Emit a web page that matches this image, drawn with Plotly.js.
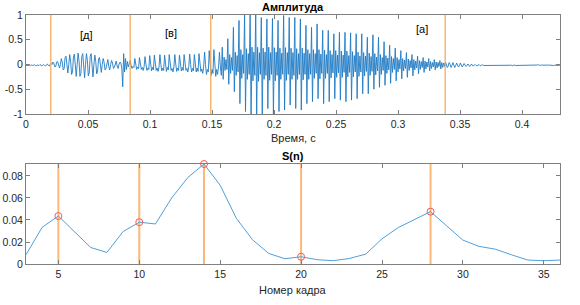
<!DOCTYPE html>
<html><head><meta charset="utf-8">
<script src="https://cdn.plot.ly/plotly-3.0.1.min.js"></script>
<style>html,body{margin:0;padding:0;background:#fff}</style>
</head><body><div id="chart" style="width:580px;height:305px"></div>
<script>
const dt = 0.00075;
const waveLead = [-0.02,-0.015,-0.02,-0.01,-0.015,-0.025,-0.01,-0.02,-0.015,-0.005,-0.02,-0.025,-0.01,-0.015,-0.02,0.0,-0.02,-0.03,-0.01,0.0,-0.02,-0.03,-0.005,0.01,-0.02,-0.03,0.0,0.02];
const waveD = [
  0,0.05,0.02,-0.05,-0.04,0.05,0.06,-0.03,-0.07,
  0,0.12,0.05,-0.11,-0.09,0.14,0.17,-0.06,-0.17,
  0,0.2,0.07,-0.2,-0.15,0.15,0.21,-0.09,-0.24,
  0,0.23,0.08,-0.24,-0.18,0.16,0.22,-0.1,-0.27,
  0,0.22,0.08,-0.23,-0.17,0.16,0.22,-0.09,-0.25,
  0,0.19,0.06,-0.19,-0.13,0.11,0.14,-0.06,-0.16,
  0,0.12,0.04,-0.11,-0.08,0.07,0.1,-0.04,-0.11,
  0,0.08,0.03,-0.08,-0.06,0.05,0.07,-0.03,-0.08,
  0,0.05];
const waveBurst = [0.03,-0.08,-0.45,0.22,-0.15,0.12,-0.1,0.06,-0.05,0.04];
const waveV = [
  0.08,-0.02,-0.08,-0.04,-0.06,
  0.12,0.0,-0.1,-0.05,-0.08,
  0.14,0.02,-0.1,-0.06,-0.12,-0.04,
  0.16,0.0,-0.12,-0.07,-0.1,
  0.18,0.01,-0.13,-0.06,-0.11,
  0.19,0.03,-0.12,-0.07,-0.14,-0.05,
  0.2,0.0,-0.13,-0.07,-0.12,
  0.19,0.02,-0.14,-0.06,-0.11,
  0.2,0.03,-0.12,-0.08,-0.15,-0.05,
  0.2,0.01,-0.14,-0.07,-0.12,
  0.19,0.0,-0.13,-0.06,-0.12,
  0.2,0.04,-0.12,-0.08,-0.15,-0.04,
  0.21,0.0,-0.15,-0.08,-0.13,
  0.2,0.02,-0.15,-0.07,-0.14,
  0.22,0.05,-0.14,-0.09,-0.18,-0.05,
  0.25,0.0,-0.2,-0.1,-0.15,
  0.28,0.02,-0.22,-0.1,-0.18,
  0.3,0.04,-0.24,-0.1,-0.2,-0.05,
  0.25,-0.05,-0.22];
const waveA = [
  0.35,-0.3,0.15,-0.12,0.1,-0.1,
  0.52,-0.4,0.2,-0.18,0.14,-0.12,
  0.75,-0.55,0.25,-0.22,0.18,-0.15,
  0.89,-0.79,0.3,-0.28,0.2,-0.18,
  1.05,-0.95,0.32,-0.3,0.22,-0.2,
  1.1,-1.1,0.35,-0.33,0.25,-0.22,
  1.08,-1.05,0.35,-0.34,0.24,-0.2,
  0.95,-1.05,0.33,-0.3,0.25,-0.22,
  0.92,-0.89,0.35,-0.32,0.24,-0.2,
  0.93,-1.02,0.34,-0.33,0.25,-0.22,
  0.89,-0.95,0.33,-0.3,0.23,-0.2,
  0.99,-0.92,0.34,-0.32,0.24,-0.2,
  0.95,-0.82,0.33,-0.3,0.24,-0.22,
  0.95,-0.89,0.32,-0.3,0.22,-0.2,
  0.92,-0.92,0.33,-0.31,0.23,-0.2,
  0.79,-0.79,0.3,-0.3,0.22,-0.2,
  0.75,-0.75,0.3,-0.28,0.22,-0.18,
  0.82,-0.69,0.3,-0.29,0.21,-0.18,
  0.69,-0.79,0.29,-0.28,0.2,-0.18,
  0.69,-0.75,0.28,-0.27,0.2,-0.17,
  0.62,-0.69,0.28,-0.26,0.19,-0.17,
  0.65,-0.72,0.27,-0.26,0.19,-0.16,
  0.65,-0.75,0.27,-0.25,0.18,-0.16,
  0.64,-0.72,0.26,-0.25,0.18,-0.15,
  0.62,-0.69,0.25,-0.24,0.17,-0.15,
  0.62,-0.59,0.24,-0.23,0.17,-0.14,
  0.55,-0.59,0.23,-0.22,0.16,-0.14,
  0.6,-0.5,0.22,-0.21,0.15,-0.13,
  0.55,-0.46,0.2,-0.2,0.14,-0.12,
  0.46,-0.42,0.18,-0.18,0.13,-0.11,
  0.39,-0.38,0.16,-0.16,0.12,-0.1,
  0.33,-0.33,0.14,-0.15,0.1,-0.09,
  0.28,-0.29,0.12,-0.13,0.09,-0.08,
  0.24,-0.26,0.11,-0.12,0.08,-0.07,
  0.2,-0.23,0.1,-0.11,0.07,-0.07,
  0.17,-0.19,0.08,-0.1,0.06,-0.06,
  0.14,-0.16,0.07,-0.09,0.05,-0.05,
  0.12,-0.13,0.06,-0.08,0.04,-0.05,
  0.1,-0.11,0.05,-0.07,0.04,-0.04,
  0.08,-0.09,0.04,-0.06,0.03,-0.04];
const waveTail = [
  0.05,0.0,-0.06,-0.03,0.04,0.0,-0.06,-0.02,0.04,-0.01,-0.06,-0.02,0.03,-0.01,-0.05,-0.02,
  0.03,-0.01,-0.05,-0.02,0.02,-0.01,-0.04,-0.02,0.01,-0.01,-0.04,-0.02,0.01,-0.02,-0.03,-0.01,
  0.0,-0.02,-0.03,-0.01,0.0,-0.02,-0.025,-0.01,-0.005,-0.02,-0.02,-0.01,-0.015,-0.02,-0.01,-0.015,
  -0.02,-0.01,-0.015,-0.02,-0.01,-0.005,-0.015,-0.02,-0.01,-0.015,-0.02,-0.01,-0.01,-0.02,-0.015,-0.01,
  -0.005,-0.015,-0.02,-0.01,-0.015,-0.02,-0.01,-0.015,-0.025,-0.015,-0.01,-0.02,-0.02,-0.01,-0.015,-0.02,
  -0.015,-0.02,-0.025,-0.015,-0.02,-0.025,-0.02,-0.015,-0.02,-0.025,-0.015,-0.01,-0.015,-0.02,-0.01,-0.015,
  -0.01,-0.015,-0.02,-0.01,-0.005,-0.015,-0.02,-0.01,-0.015,-0.02,-0.01,-0.015,-0.01,-0.02,-0.015,-0.01,
  -0.015,-0.02,-0.01,-0.015,-0.02,-0.015,-0.01,-0.015,-0.02,-0.015,-0.01,-0.015];
const wave = [].concat(waveLead, waveD, waveBurst, waveV, waveA, waveTail);
const waveTime = wave.map((_, i) => i * dt);

// segment boundaries (s) and phoneme labels
const boundaryTimes = [0.02, 0.084, 0.149, 0.338];
const phonemeLabels = ['[д]', '[в]', '[а]'];
const phonemeX = [0.0484, 0.1167, 0.3196];
const phonemeY = [0.6, 0.63, 0.71];

// ---- S(n) ----
const frames = [3,4,5,6,7,8,9,10,11,12,13,14,15,16,17,18,19,20,21,22,23,24,25,26,27,28,29,30,31,32,33,34,35,36];
const sValues = [0.0084,0.0334,0.0436,0.029,0.015,0.0105,0.0295,0.038,0.0364,0.060,0.0786,0.0909,0.0716,0.0415,0.022,0.0096,0.0048,0.0066,0.0039,0.003,0.0051,0.009,0.0229,0.0331,0.040,0.0476,0.0346,0.0217,0.016,0.0135,0.0084,0.0036,0.003,0.0036];
const peakFrames = [5,10,14,20,28];
const peakValues = peakFrames.map(f => sValues[frames.indexOf(f)]);

// ticks
const topXTicks = [0,0.05,0.1,0.15,0.2,0.25,0.3,0.35,0.4];
const topXText = ['0','0.05','0.1','0.15','0.2','0.25','0.3','0.35','0.4'];
const topYTicks = [-1,-0.5,0,0.5,1];
const topYText = ['-1','-0.5','0','0.5','1'];
const botXTicks = [5,10,15,20,25,30,35];
const botYTicks = [0,0.02,0.04,0.06,0.08];
const botYText = ['0','0.02','0.04','0.06','0.08'];

const FONT = 'Liberation Sans, Arial, sans-serif';
const TXT = '#262626';

const traces = [
  {x: waveTime, y: wave, xaxis:'x', yaxis:'y', type:'scatter', mode:'lines',
   line:{color:'#1f7bc4', width:0.9}, hoverinfo:'skip'},
  {x: frames, y: sValues, xaxis:'x2', yaxis:'y2', type:'scatter', mode:'lines',
   line:{color:'#4fa0da', width:1}},
  {x: peakFrames, y: peakValues, xaxis:'x2', yaxis:'y2', type:'scatter', mode:'markers',
   cliponaxis:false,
   marker:{symbol:'circle-open', size:7, color:'#f25a5a', line:{width:1, color:'#f25a5a'}}}
];

const shapes = [];
boundaryTimes.forEach(t => shapes.push({type:'line', xref:'x', yref:'y domain', x0:t, x1:t, y0:0, y1:1,
  line:{color:'#f5a650', width:1.2}, layer:'above'}));
peakFrames.forEach(f => shapes.push({type:'line', xref:'x2', yref:'y2 domain', x0:f, x1:f, y0:0, y1:1,
  line:{color:'#fbb878', width:2}, layer:'below'}));

const annotations = [
  {text:'<b>Амплитуда</b>', xref:'paper', yref:'paper', x:0.5, y:1, yanchor:'middle', yshift:8, showarrow:false, font:{size:11, color:'#000', family:FONT}},
  {text:'<b>S(n)</b>', xref:'paper', yref:'paper', x:0.5, y:0.4016, yanchor:'middle', yshift:8, showarrow:false, font:{size:11, color:'#000', family:FONT}},
  {text:'Время, с', xref:'paper', yref:'paper', x:0.5, y:0.6024, yanchor:'middle', yshift:-24, showarrow:false, font:{size:11, color:TXT, family:FONT}},
  {text:'Номер кадра', xref:'paper', yref:'paper', x:0.5, y:0, yanchor:'middle', yshift:-26, showarrow:false, font:{size:11, color:TXT, family:FONT}}
];
phonemeLabels.forEach((s, i) => annotations.push({text:s, xref:'x', yref:'y', x:phonemeX[i], y:phonemeY[i],
  yanchor:'middle', showarrow:false, font:{size:11, color:'#000', family:FONT}}));

const axisBase = {showgrid:false, zeroline:false, showline:true, mirror:'ticks', linecolor:'#808080', linewidth:1,
  ticks:'inside', ticklen:4, tickcolor:'#808080', tickfont:{size:10.5, color:TXT, family:FONT}, fixedrange:true};

const layout = {
  width:580, height:305,
  margin:{l:26, r:20, t:15, b:41},
  paper_bgcolor:'#fff', plot_bgcolor:'#fff',
  showlegend:false,
  font:{family:FONT},
  xaxis: Object.assign({}, axisBase, {domain:[0,1], anchor:'y', range:[0,0.4306], tickmode:'array', tickvals:topXTicks, ticktext:topXText}),
  yaxis: Object.assign({}, axisBase, {domain:[0.6024,1], anchor:'x', range:[-1,1], tickmode:'array', tickvals:topYTicks, ticktext:topYText}),
  xaxis2: Object.assign({}, axisBase, {domain:[0,1], anchor:'y2', range:[3,36], tickmode:'array', tickvals:botXTicks}),
  yaxis2: Object.assign({}, axisBase, {domain:[0,0.4016], anchor:'x2', range:[0,0.0909], tickmode:'array', tickvals:botYTicks, ticktext:botYText}),
  shapes: shapes,
  annotations: annotations
};

Plotly.newPlot('chart', traces, layout, {displayModeBar:false, staticPlot:true});
</script></body></html>
